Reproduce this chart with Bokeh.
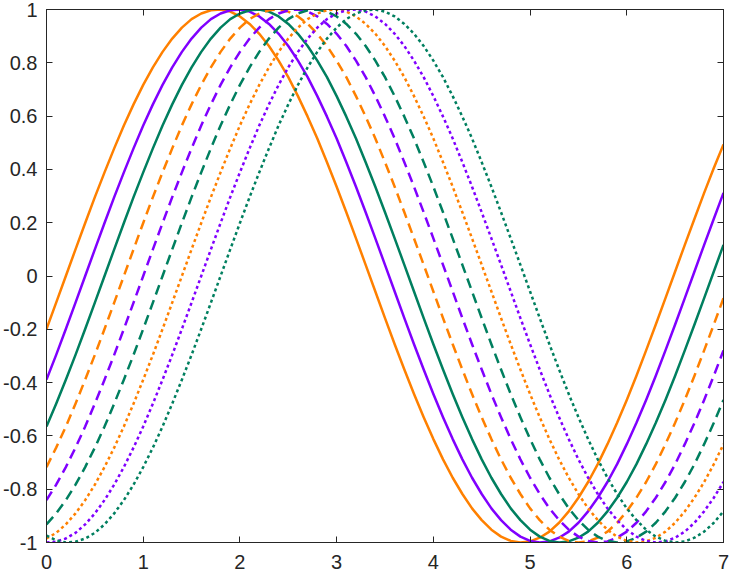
from bokeh.plotting import figure
from bokeh.models import Range1d, LinearAxis, FixedTicker, CustomJSTickFormatter
from bokeh.embed import file_html
from bokeh.resources import INLINE

x_vals = [0.0, 0.1, 0.2, 0.3, 0.4, 0.5, 0.6, 0.7, 0.8, 0.9,
          1.0, 1.1, 1.2, 1.3, 1.4, 1.5, 1.6, 1.7, 1.8, 1.9,
          2.0, 2.1, 2.2, 2.3, 2.4, 2.5, 2.6, 2.7, 2.8, 2.9,
          3.0, 3.1, 3.2, 3.3, 3.4, 3.5, 3.6, 3.7, 3.8, 3.9,
          4.0, 4.1, 4.2, 4.3, 4.4, 4.5, 4.6, 4.7, 4.8, 4.9,
          5.0, 5.1, 5.2, 5.3, 5.4, 5.5, 5.6, 5.7, 5.8, 5.9,
          6.0, 6.1, 6.2, 6.3, 6.4, 6.5, 6.6, 6.7, 6.8, 6.9, 7.0]

s1 = [-0.199, -0.100,
      0.000, 0.100, 0.199, 0.296, 0.389, 0.479, 0.565, 0.644, 0.717, 0.783,
      0.841, 0.891, 0.932, 0.964, 0.985, 0.997, 1.000, 0.992, 0.974, 0.946,
      0.909, 0.863, 0.808, 0.746, 0.675, 0.598, 0.516, 0.427, 0.335, 0.239,
      0.141, 0.042, -0.058, -0.158, -0.256, -0.351, -0.443, -0.530, -0.612, -0.688,
      -0.757, -0.818, -0.872, -0.916, -0.952, -0.978, -0.994, -1.000, -0.996, -0.982,
      -0.959, -0.926, -0.883, -0.832, -0.773, -0.706, -0.631, -0.551, -0.465, -0.374,
      -0.279, -0.182, -0.083, 0.017, 0.117, 0.215, 0.312, 0.405, 0.494]
s2 = [-0.389, -0.296, -0.199, -0.100,
      0.000, 0.100, 0.199, 0.296, 0.389, 0.479, 0.565, 0.644, 0.717, 0.783,
      0.841, 0.891, 0.932, 0.964, 0.985, 0.997, 1.000, 0.992, 0.974, 0.946,
      0.909, 0.863, 0.808, 0.746, 0.675, 0.598, 0.516, 0.427, 0.335, 0.239,
      0.141, 0.042, -0.058, -0.158, -0.256, -0.351, -0.443, -0.530, -0.612, -0.688,
      -0.757, -0.818, -0.872, -0.916, -0.952, -0.978, -0.994, -1.000, -0.996, -0.982,
      -0.959, -0.926, -0.883, -0.832, -0.773, -0.706, -0.631, -0.551, -0.465, -0.374,
      -0.279, -0.182, -0.083, 0.017, 0.117, 0.215, 0.312]
s3 = [-0.565, -0.479, -0.389, -0.296, -0.199, -0.100,
      0.000, 0.100, 0.199, 0.296, 0.389, 0.479, 0.565, 0.644, 0.717, 0.783,
      0.841, 0.891, 0.932, 0.964, 0.985, 0.997, 1.000, 0.992, 0.974, 0.946,
      0.909, 0.863, 0.808, 0.746, 0.675, 0.598, 0.516, 0.427, 0.335, 0.239,
      0.141, 0.042, -0.058, -0.158, -0.256, -0.351, -0.443, -0.530, -0.612, -0.688,
      -0.757, -0.818, -0.872, -0.916, -0.952, -0.978, -0.994, -1.000, -0.996, -0.982,
      -0.959, -0.926, -0.883, -0.832, -0.773, -0.706, -0.631, -0.551, -0.465, -0.374,
      -0.279, -0.182, -0.083, 0.017, 0.117]
s4 = [-0.717, -0.644, -0.565, -0.479, -0.389, -0.296, -0.199, -0.100,
      0.000, 0.100, 0.199, 0.296, 0.389, 0.479, 0.565, 0.644, 0.717, 0.783,
      0.841, 0.891, 0.932, 0.964, 0.985, 0.997, 1.000, 0.992, 0.974, 0.946,
      0.909, 0.863, 0.808, 0.746, 0.675, 0.598, 0.516, 0.427, 0.335, 0.239,
      0.141, 0.042, -0.058, -0.158, -0.256, -0.351, -0.443, -0.530, -0.612, -0.688,
      -0.757, -0.818, -0.872, -0.916, -0.952, -0.978, -0.994, -1.000, -0.996, -0.982,
      -0.959, -0.926, -0.883, -0.832, -0.773, -0.706, -0.631, -0.551, -0.465, -0.374,
      -0.279, -0.182, -0.083]
s5 = [-0.841, -0.783, -0.717, -0.644, -0.565, -0.479, -0.389, -0.296, -0.199, -0.100,
      0.000, 0.100, 0.199, 0.296, 0.389, 0.479, 0.565, 0.644, 0.717, 0.783,
      0.841, 0.891, 0.932, 0.964, 0.985, 0.997, 1.000, 0.992, 0.974, 0.946,
      0.909, 0.863, 0.808, 0.746, 0.675, 0.598, 0.516, 0.427, 0.335, 0.239,
      0.141, 0.042, -0.058, -0.158, -0.256, -0.351, -0.443, -0.530, -0.612, -0.688,
      -0.757, -0.818, -0.872, -0.916, -0.952, -0.978, -0.994, -1.000, -0.996, -0.982,
      -0.959, -0.926, -0.883, -0.832, -0.773, -0.706, -0.631, -0.551, -0.465, -0.374,
      -0.279]
s6 = [-0.932, -0.891,
      -0.841, -0.783, -0.717, -0.644, -0.565, -0.479, -0.389, -0.296, -0.199, -0.100,
      0.000, 0.100, 0.199, 0.296, 0.389, 0.479, 0.565, 0.644, 0.717, 0.783,
      0.841, 0.891, 0.932, 0.964, 0.985, 0.997, 1.000, 0.992, 0.974, 0.946,
      0.909, 0.863, 0.808, 0.746, 0.675, 0.598, 0.516, 0.427, 0.335, 0.239,
      0.141, 0.042, -0.058, -0.158, -0.256, -0.351, -0.443, -0.530, -0.612, -0.688,
      -0.757, -0.818, -0.872, -0.916, -0.952, -0.978, -0.994, -1.000, -0.996, -0.982,
      -0.959, -0.926, -0.883, -0.832, -0.773, -0.706, -0.631, -0.551, -0.465]
s7 = [-0.985, -0.964, -0.932, -0.891,
      -0.841, -0.783, -0.717, -0.644, -0.565, -0.479, -0.389, -0.296, -0.199, -0.100,
      0.000, 0.100, 0.199, 0.296, 0.389, 0.479, 0.565, 0.644, 0.717, 0.783,
      0.841, 0.891, 0.932, 0.964, 0.985, 0.997, 1.000, 0.992, 0.974, 0.946,
      0.909, 0.863, 0.808, 0.746, 0.675, 0.598, 0.516, 0.427, 0.335, 0.239,
      0.141, 0.042, -0.058, -0.158, -0.256, -0.351, -0.443, -0.530, -0.612, -0.688,
      -0.757, -0.818, -0.872, -0.916, -0.952, -0.978, -0.994, -1.000, -0.996, -0.982,
      -0.959, -0.926, -0.883, -0.832, -0.773, -0.706, -0.631]
s8 = [-1.000, -0.997, -0.985, -0.964, -0.932, -0.891,
      -0.841, -0.783, -0.717, -0.644, -0.565, -0.479, -0.389, -0.296, -0.199, -0.100,
      0.000, 0.100, 0.199, 0.296, 0.389, 0.479, 0.565, 0.644, 0.717, 0.783,
      0.841, 0.891, 0.932, 0.964, 0.985, 0.997, 1.000, 0.992, 0.974, 0.946,
      0.909, 0.863, 0.808, 0.746, 0.675, 0.598, 0.516, 0.427, 0.335, 0.239,
      0.141, 0.042, -0.058, -0.158, -0.256, -0.351, -0.443, -0.530, -0.612, -0.688,
      -0.757, -0.818, -0.872, -0.916, -0.952, -0.978, -0.994, -1.000, -0.996, -0.982,
      -0.959, -0.926, -0.883, -0.832, -0.773]
s9 = [-0.974, -0.992, -1.000, -0.997, -0.985, -0.964, -0.932, -0.891,
      -0.841, -0.783, -0.717, -0.644, -0.565, -0.479, -0.389, -0.296, -0.199, -0.100,
      0.000, 0.100, 0.199, 0.296, 0.389, 0.479, 0.565, 0.644, 0.717, 0.783,
      0.841, 0.891, 0.932, 0.964, 0.985, 0.997, 1.000, 0.992, 0.974, 0.946,
      0.909, 0.863, 0.808, 0.746, 0.675, 0.598, 0.516, 0.427, 0.335, 0.239,
      0.141, 0.042, -0.058, -0.158, -0.256, -0.351, -0.443, -0.530, -0.612, -0.688,
      -0.757, -0.818, -0.872, -0.916, -0.952, -0.978, -0.994, -1.000, -0.996, -0.982,
      -0.959, -0.926, -0.883]

series = [s1, s2, s3, s4, s5, s6, s7, s8, s9]
x_ticks = [0, 1, 2, 3, 4, 5, 6, 7]
y_ticks = [-1, -0.8, -0.6, -0.4, -0.2, 0, 0.2, 0.4, 0.6, 0.8, 1]

colors = ["#FF8000", "#8000FF", "#007F5F"]
dashes = ["solid", "10 6", "3 3"]

p = figure(width=731, height=577, output_backend="svg", toolbar_location=None,
           x_range=Range1d(0, 7), y_range=Range1d(-1, 1),
           x_axis_location=None, y_axis_location=None,
           min_border_left=46, min_border_right=8, min_border_top=9, min_border_bottom=35)
p.xgrid.visible = False
p.ygrid.visible = False
p.outline_line_color = "#262626"
p.outline_line_width = 1
p.background_fill_color = "white"
p.border_fill_color = "white"

for i, ys in enumerate(series):
    n = min(len(x_vals), len(ys))
    p.line(x_vals[:n], ys[:n], line_color=colors[i % 3], line_width=2.5,
           line_dash=dashes[i // 3], line_cap="butt", line_join="round")

fmt = CustomJSTickFormatter(code="return String(Math.round(tick*10)/10);")
blank = CustomJSTickFormatter(code="return '';")

def make_axis(ticks, labelled, standoff):
    ax = LinearAxis(ticker=FixedTicker(ticks=ticks), formatter=fmt if labelled else blank)
    ax.minor_tick_line_color = None
    ax.major_tick_in = 6
    ax.major_tick_out = 0
    ax.major_tick_line_color = "#262626"
    ax.axis_line_color = "#262626"
    ax.major_label_text_font = "Liberation Sans"
    ax.major_label_text_font_size = "20px" if labelled else "0px"
    ax.major_label_text_color = "#262626"
    ax.major_label_standoff = standoff
    return ax

p.add_layout(make_axis(x_ticks, True, 12), "below")
p.add_layout(make_axis(y_ticks, True, 9), "left")
p.add_layout(make_axis(x_ticks, False, 0), "above")
p.add_layout(make_axis(y_ticks, False, 0), "right")

open("out.html", "w").write(file_html(p, INLINE))
